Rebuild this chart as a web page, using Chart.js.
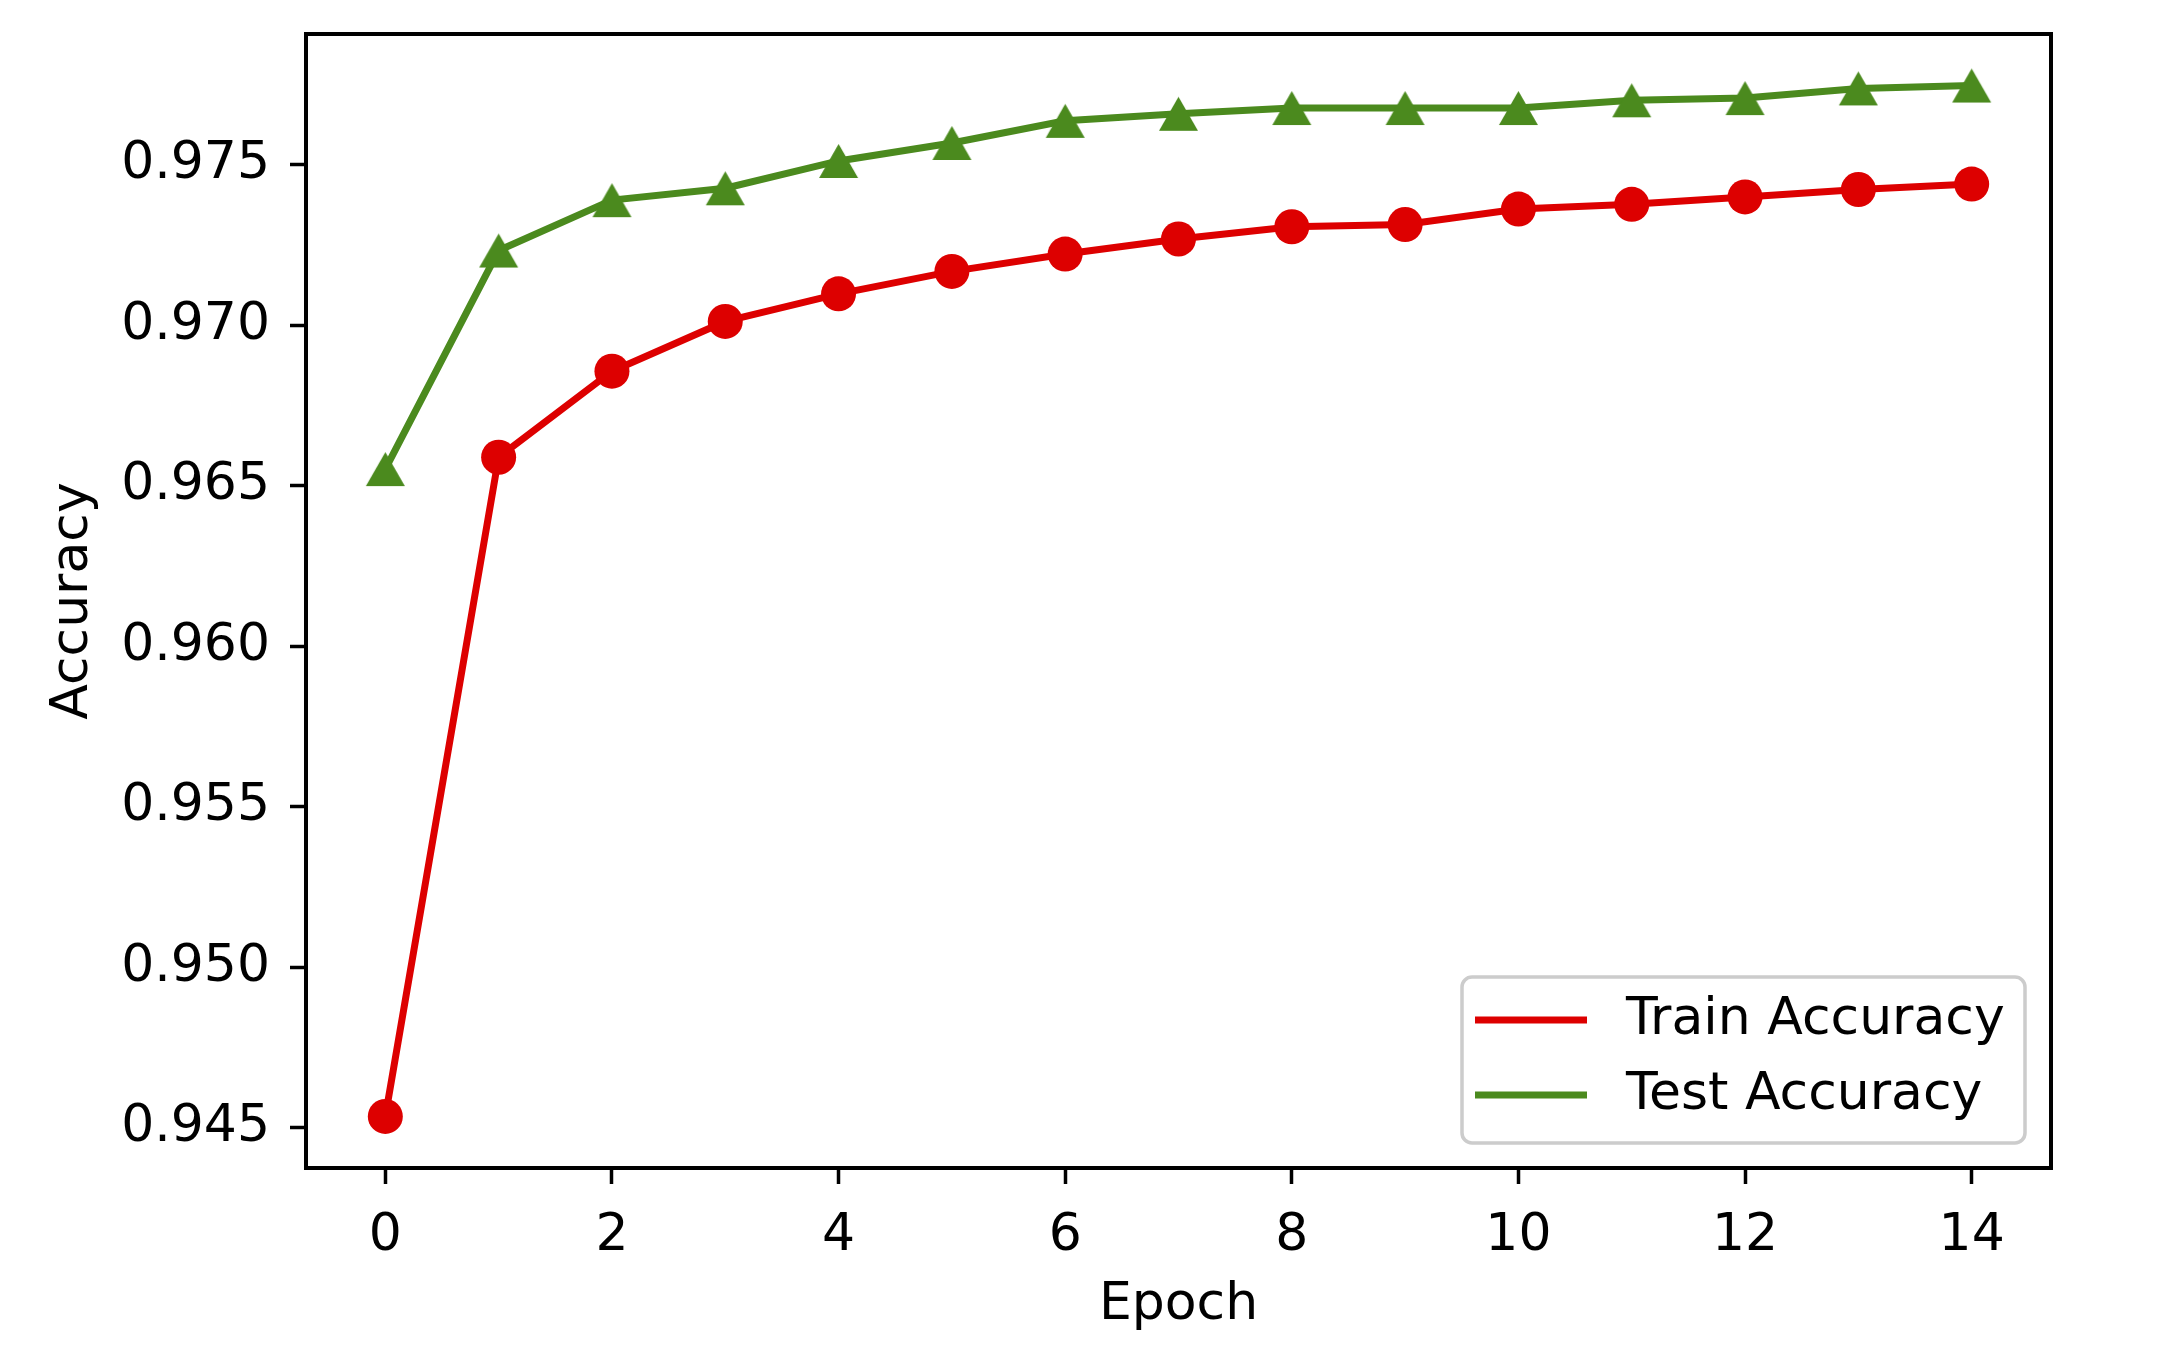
<!DOCTYPE html>
<html>
<head>
<meta charset="utf-8">
<script src="https://cdn.jsdelivr.net/npm/chart.js@4"></script>
<style>
  html, body { margin: 0; padding: 0; background: #fff; }
  #wrap { width: 2180px; height: 1355px; }
</style>
</head>
<body>
<div id="wrap"><canvas id="accChart" width="2180" height="1355"></canvas></div>
<script>
// values
var epochs = [0, 1, 2, 3, 4, 5, 6, 7, 8, 9, 10, 11, 12, 13, 14];
var trainAcc = [0.94535, 0.96589, 0.96857, 0.97012, 0.97098, 0.97168, 0.97222, 0.97269,
                0.97307, 0.97314, 0.97362, 0.97377, 0.97400, 0.97423, 0.97440];
var testAcc = [0.96552, 0.97233, 0.97390, 0.97427, 0.97512, 0.97568, 0.97637, 0.97659,
               0.97677, 0.97677, 0.97677, 0.97701, 0.97708, 0.97738, 0.97747];
var xTicks = [0, 2, 4, 6, 8, 10, 12, 14];
var yTicks = [0.945, 0.950, 0.955, 0.960, 0.965, 0.970, 0.975];

var RED = '#dd0000';
var GREEN = '#4b8a1e';

Chart.defaults.font.family = "'DejaVu Sans', sans-serif";
Chart.defaults.font.size = 52;
Chart.defaults.color = '#000';

// matplotlib style 5% margins
function padRange(arr) {
    var lo = Math.min.apply(null, arr), hi = Math.max.apply(null, arr);
    var m = (hi - lo) * 0.05;
    return [lo - m, hi + m];
}
var yRange = padRange(trainAcc.concat(testAcc));
var xRange = padRange(epochs);

function toPoints(ys) {
    return epochs.map(function (e, i) { return { x: e, y: ys[i] }; });
}

// '^' marker centred on its bounding box, like matplotlib
function triangleMarker(color, w, h) {
    var c = document.createElement('canvas');
    c.width = w + 2; c.height = h + 2;
    var g = c.getContext('2d');
    g.fillStyle = color;
    g.beginPath();
    g.moveTo(c.width / 2, 1);
    g.lineTo(1, h + 1);
    g.lineTo(w + 1, h + 1);
    g.closePath();
    g.fill();
    return c;
}

var frame = {
    id: 'frame',
    afterDatasetsDraw: function (chart) {
        var a = chart.chartArea, c = chart.ctx;
        c.save();
        c.strokeStyle = '#000';
        c.lineWidth = 4;
        c.strokeRect(a.left, a.top, a.right - a.left, a.bottom - a.top);
        c.restore();
    }
};

var boxLegend = {
    id: 'boxLegend',
    afterDraw: function (chart) {
        var a = chart.chartArea, c = chart.ctx;
        var w = 563, h = 166;
        var x0 = a.right - 26 - w, y0 = a.bottom - 25 - h;
        c.save();
        c.beginPath();
        c.roundRect(x0, y0, w, h, 10);
        c.fillStyle = 'rgba(255,255,255,0.8)';
        c.fill();
        c.lineWidth = 3.5;
        c.strokeStyle = '#cccccc';
        c.stroke();
        c.font = "52px 'DejaVu Sans'";
        c.textBaseline = 'middle';
        c.textAlign = 'left';
        chart.data.datasets.forEach(function (ds, i) {
            var ry = y0 + 43 + i * 75;
            c.beginPath();
            c.moveTo(x0 + 13, ry);
            c.lineTo(x0 + 125, ry);
            c.strokeStyle = ds.borderColor;
            c.lineWidth = 7;
            c.stroke();
            c.fillStyle = '#000';
            c.fillText(ds.label, x0 + 164, ry);
        });
        c.restore();
    }
};

new Chart(document.getElementById('accChart'), {
    type: 'line',
    data: {
        datasets: [{
            label: 'Train Accuracy',
            data: toPoints(trainAcc),
            borderColor: RED,
            backgroundColor: RED,
            borderWidth: 7,
            pointStyle: 'circle',
            pointRadius: 17.5,
            pointBorderWidth: 0,
            pointBackgroundColor: RED,
            tension: 0
        }, {
            label: 'Test Accuracy',
            data: toPoints(testAcc),
            borderColor: GREEN,
            backgroundColor: GREEN,
            borderWidth: 7,
            pointStyle: triangleMarker(GREEN, 39, 34),
            pointRadius: 17,
            tension: 0
        }]
    },
    options: {
        responsive: false,
        devicePixelRatio: 1,
        animation: false,
        layout: { padding: { top: 34, right: 129, left: 0, bottom: 0 } },
        plugins: {
            legend: { display: false },
            tooltip: { enabled: false }
        },
        scales: {
            x: {
                type: 'linear',
                min: xRange[0],
                max: xRange[1],
                afterBuildTicks: function (s) { s.ticks = xTicks.map(function (v) { return { value: v }; }); },
                afterFit: function (s) {
                    s.height = 187;
                    s.paddingLeft = 0; s.paddingRight = 0;
                },
                ticks: {
                    autoSkip: false, maxRotation: 0, padding: 21,
                    callback: function (v) { return String(v); }
                },
                grid: { drawOnChartArea: false, tickLength: 16, tickWidth: 3.5, tickColor: '#000' },
                border: { display: true, color: '#000', width: 4 },
                title: { display: true, text: 'Epoch', padding: { top: 0, bottom: 18 } }
            },
            y: {
                min: yRange[0],
                max: yRange[1],
                afterBuildTicks: function (s) { s.ticks = yTicks.map(function (v) { return { value: v }; }); },
                afterFit: function (s) {
                    s.width = 306;
                    s.paddingTop = 0; s.paddingBottom = 0;
                },
                ticks: {
                    autoSkip: false, padding: 20,
                    callback: function (v) { return v.toFixed(3); }
                },
                grid: { drawOnChartArea: false, tickLength: 16, tickWidth: 3.5, tickColor: '#000' },
                border: { display: true, color: '#000', width: 4 },
                title: { display: true, text: 'Accuracy', padding: { top: 42, bottom: 0 } }
            }
        }
    },
    plugins: [frame, boxLegend]
});
</script>
</body>
</html>
